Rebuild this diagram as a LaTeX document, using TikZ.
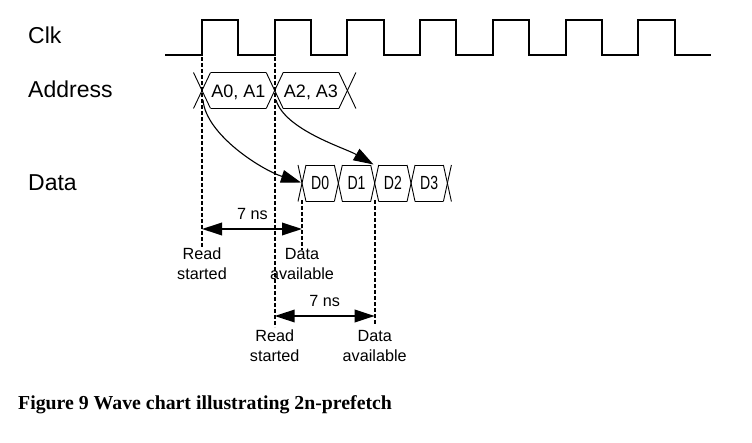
\documentclass[tikz,border=0pt]{standalone}
\usepackage{fontspec}
\setmainfont{Liberation Sans}
\newfontfamily\capfont{Liberation Serif}
\usetikzlibrary{arrows.meta}
\begin{document}
\begin{tikzpicture}[x=1pt,y=-1pt,
  biglab/.style={anchor=base west,inner sep=0pt,font=\fontsize{23}{27}\selectfont},
  addrlab/.style={anchor=base,inner sep=0pt,font=\fontsize{18}{22}\selectfont},
  datalab/.style={anchor=base,inner sep=0pt,font=\fontsize{19}{22}\selectfont},
  smalllab/.style={anchor=base,inner sep=0pt,align=center,font=\fontsize{16.2}{20.7}\selectfont},
  clk/.style={line width=2pt,line join=miter},
  bus/.style={line width=0.9pt},
  guide/.style={line width=1.6pt,dash pattern=on 4pt off 2pt},
  curvearrow/.style={line width=1.1pt,-{Triangle[length=20pt,width=13pt]}},
  timearrow/.style={line width=2pt,{Triangle[length=20pt,width=12.5pt]}-{Triangle[length=20pt,width=12.5pt]}}
]
\useasboundingbox (0,0) rectangle (752,443);

% labels
\node[biglab] (lclk) at (28,44) {Clk};
\node[biglab] (laddr) at (28,98) {Address};
\node[biglab] (ldata) at (28,191) {Data};

% clock
\draw[clk] (165,55.5) -- (202,55.5)
  foreach \i in {0,...,6} { -- ++(0,-35.5) -- ++(36.35,0) -- ++(0,35.5) -- ++(36.35,0) };

% address bus
\foreach \c in {202,274.7,347.4} {
  \draw[bus] ({\c-8.5},72.5) -- ({\c+8.5},108.5);
  \draw[bus] ({\c-8.5},108.5) -- ({\c+8.5},72.5);
}
\foreach \a/\b in {202/274.7,274.7/347.4} {
  \draw[bus] ({\a+8.5},72.5) -- ({\b-8.5},72.5);
  \draw[bus] ({\a+8.5},108.5) -- ({\b-8.5},108.5);
}
\node[addrlab] (a01) at (238.3,97.3) {A0, A1};
\node[addrlab] (a23) at (311,97.3) {A2, A3};

% data bus
\foreach \c in {302,338.35,374.7,411.05,447.4} {
  \draw[bus] ({\c-4},165) -- ({\c+4},201.5);
  \draw[bus] ({\c-4},201.5) -- ({\c+4},165);
}
\foreach \a/\b in {302/338.35,338.35/374.7,374.7/411.05,411.05/447.4} {
  \draw[bus] ({\a+4},165) -- ({\b-4},165);
  \draw[bus] ({\a+4},201.5) -- ({\b-4},201.5);
}
\node[datalab] (d0) at (320.2,189.5) {\scalebox{0.74}[1]{D0}};
\node[datalab] (d1) at (356.5,189.5) {\scalebox{0.74}[1]{D1}};
\node[datalab] (d2) at (392.9,189.5) {\scalebox{0.74}[1]{D2}};
\node[datalab] (d3) at (429.2,189.5) {\scalebox{0.74}[1]{D3}};

% guide lines
\coordinate (g1t) at (202,57);    \coordinate (g1b) at (202,248);
\coordinate (g2t) at (274.7,57);  \coordinate (g2b) at (274.7,327);
\coordinate (g3t) at (302,200);   \coordinate (g3b) at (302,250);
\coordinate (g4t) at (374.7,200); \coordinate (g4b) at (374.7,325);
\draw[guide] (g1t) -- (g1b);
\draw[guide] (g2t) -- (g2b);
\draw[guide] (g3t) -- (g3b);
\draw[guide] (g4t) -- (g4b);

% curved arrows
\coordinate (c1s) at (203,100);
\coordinate (c1e) at (301,182.5);
\coordinate (c2s) at (276,100);
\coordinate (c2e) at (373.5,164.5);
\draw[curvearrow] (c1s) .. controls (206,135) and (262,170) .. (c1e);
\draw[curvearrow] (c2s) .. controls (285,130) and (345,148) .. (c2e);

% timing arrows
\coordinate (t1l) at (202,229);   \coordinate (t1r) at (302,229);
\coordinate (t2l) at (274.7,316); \coordinate (t2r) at (374.7,316);
\draw[timearrow] (t1l) -- (t1r);
\draw[timearrow] (t2l) -- (t2r);
\node[smalllab] (ns1) at (252.5,219.3) {7 ns};
\node[smalllab] (ns2) at (324.7,307) {7 ns};

\node[smalllab] (rs1) at (202,280) {Read\\started};
\node[smalllab] (da1) at (302,280) {Data\\available};
\node[smalllab] (rs2) at (274.7,362) {Read\\started};
\node[smalllab] (da2) at (374.7,362) {Data\\available};

% caption
\node[anchor=base west,inner sep=0pt,font=\capfont\bfseries\fontsize{19.8}{23}\selectfont] (cap) at (18,409) {Figure 9 Wave chart illustrating 2n-prefetch};
\end{tikzpicture}
\end{document}
